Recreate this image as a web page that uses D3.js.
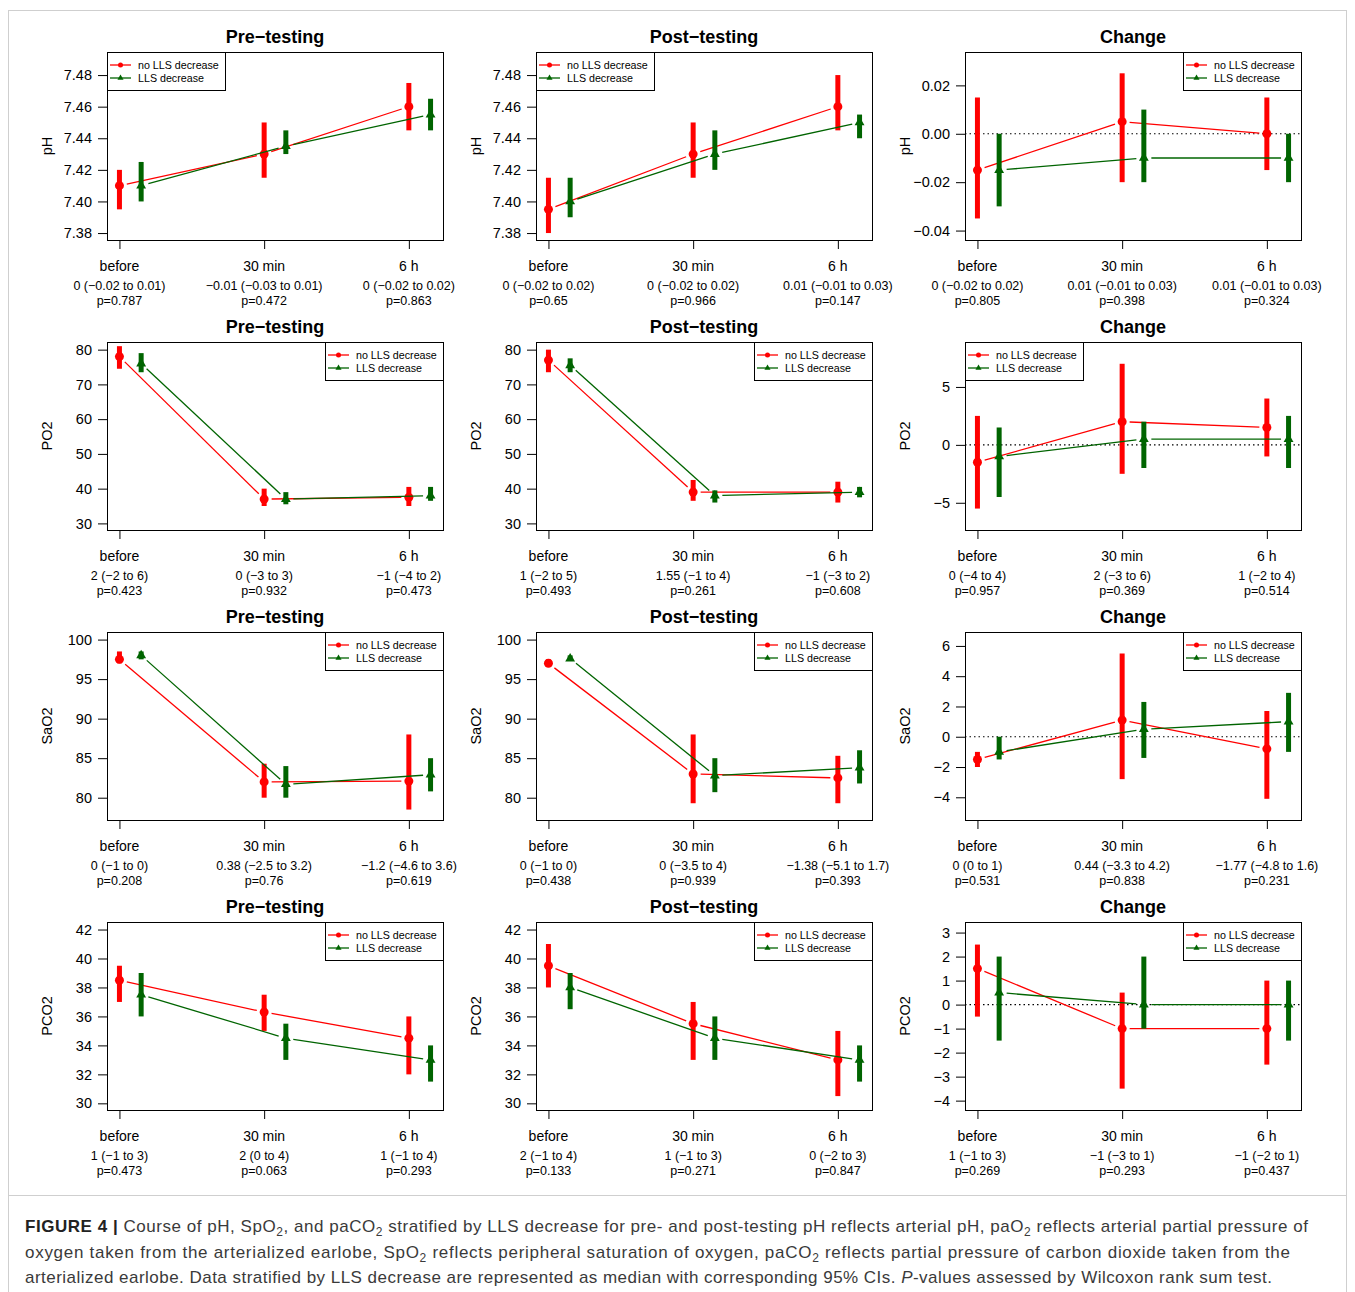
<!DOCTYPE html>
<html>
<head>
<meta charset="utf-8">
<script src="https://cdn.jsdelivr.net/npm/d3@7"></script>
<style>
  body { margin: 0; background: #fff; }
  text { font-family: "Liberation Sans", Arial, sans-serif; }
</style>
</head>
<body>
<svg id="fig"></svg>
<script>
// Time points, groups, titles
var times = ['before', '30 min', '6 h'];
var groups = ['no LLS decrease', 'LLS decrease'];
var colTitles = ['Pre\u2212testing', 'Post\u2212testing', 'Change'];
var rowLabels = ['pH', 'PO2', 'SaO2', 'PCO2'];

// [median, lower CI, upper CI] per time point, first no LLS decrease then LLS decrease
var phPre = [
  [[7.41, 7.395, 7.42], [7.43, 7.415, 7.45], [7.46, 7.445, 7.475]],
  [[7.41, 7.40, 7.425], [7.435, 7.43, 7.445], [7.455, 7.445, 7.465]]
];
var phPost = [
  [[7.395, 7.38, 7.415], [7.43, 7.415, 7.45], [7.46, 7.445, 7.48]],
  [[7.40, 7.39, 7.415], [7.43, 7.42, 7.445], [7.45, 7.44, 7.455]]
];
var phChange = [
  [[-0.015, -0.035, 0.015], [0.005, -0.02, 0.025], [0, -0.015, 0.015]],
  [[-0.015, -0.03, 0], [-0.01, -0.02, 0.01], [-0.01, -0.02, 0]]
];
var po2Pre = [
  [[78, 74.5, 81], [37, 35, 40], [37.5, 35, 40.5]],
  [[76, 73.5, 79], [37, 35.5, 39], [38, 36.5, 40.5]]
];
var po2Post = [
  [[77, 73.5, 80], [39, 36.5, 42.5], [39, 36, 42]],
  [[75.5, 73.5, 77.5], [38, 36, 39.5], [39, 37.5, 40.5]]
];
var po2Change = [
  [[-1.5, -5.5, 2.5], [2, -2.5, 7], [1.5, -1, 4]],
  [[-1, -4.5, 1.5], [0.5, -2, 2], [0.5, -2, 2.5]]
];
var sao2Pre = [
  [[97.5, 97, 98.5], [82, 80, 84.3], [82.1, 78.5, 88]],
  [[98, 97.5, 98.5], [81.7, 80, 84], [82.9, 80.8, 85]]
];
var sao2Post = [
  [[97, 96.7, 97.5], [83, 79.3, 88], [82.5, 79.3, 85.3]],
  [[97.6, 97.3, 98], [82.8, 80.7, 85], [83.8, 81.8, 86]]
];
var sao2Change = [
  [[-1.5, -2, -1], [1.1, -2.8, 5.5], [-0.8, -4.1, 1.7]],
  [[-1, -1.5, 0], [0.5, -1.4, 2.3], [1, -1, 2.9]]
];
var pco2Pre = [
  [[38.5, 37, 39.5], [36.3, 35, 37.5], [34.5, 32, 36]],
  [[37.5, 36, 39], [34.5, 33, 35.5], [33, 31.5, 34]]
];
var pco2Post = [
  [[39.5, 38, 41], [35.5, 33, 37], [33, 30.5, 35]],
  [[38, 36.5, 39], [34.5, 33, 36], [33, 31.5, 34]]
];
var pco2Change = [
  [[1.5, -0.5, 2.5], [-1, -3.5, 0.5], [-1, -2.5, 1]],
  [[0.5, -1.5, 2], [0, -1, 2], [0, -1.5, 1]]
];

// Effect (95% CI) and p-value under each time point
var phPreNotes = ['0 (\u22120.02 to 0.01)', '\u22120.01 (\u22120.03 to 0.01)', '0 (\u22120.02 to 0.02)'];
var phPostNotes = ['0 (\u22120.02 to 0.02)', '0 (\u22120.02 to 0.02)', '0.01 (\u22120.01 to 0.03)'];
var phChangeNotes = ['0 (\u22120.02 to 0.02)', '0.01 (\u22120.01 to 0.03)', '0.01 (\u22120.01 to 0.03)'];
var po2PreNotes = ['2 (\u22122 to 6)', '0 (\u22123 to 3)', '\u22121 (\u22124 to 2)'];
var po2PostNotes = ['1 (\u22122 to 5)', '1.55 (\u22121 to 4)', '\u22121 (\u22123 to 2)'];
var po2ChangeNotes = ['0 (\u22124 to 4)', '2 (\u22123 to 6)', '1 (\u22122 to 4)'];
var sao2PreNotes = ['0 (\u22121 to 0)', '0.38 (\u22122.5 to 3.2)', '\u22121.2 (\u22124.6 to 3.6)'];
var sao2PostNotes = ['0 (\u22121 to 0)', '0 (\u22123.5 to 4)', '\u22121.38 (\u22125.1 to 1.7)'];
var sao2ChangeNotes = ['0 (0 to 1)', '0.44 (\u22123.3 to 4.2)', '\u22121.77 (\u22124.8 to 1.6)'];
var pco2PreNotes = ['1 (\u22121 to 3)', '2 (0 to 4)', '1 (\u22121 to 4)'];
var pco2PostNotes = ['2 (\u22121 to 4)', '1 (\u22121 to 3)', '0 (\u22122 to 3)'];
var pco2ChangeNotes = ['1 (\u22121 to 3)', '\u22121 (\u22123 to 1)', '\u22121 (\u22122 to 1)'];

var phPreP = ['0.787', '0.472', '0.863'];
var phPostP = ['0.65', '0.966', '0.147'];
var phChangeP = ['0.805', '0.398', '0.324'];
var po2PreP = ['0.423', '0.932', '0.473'];
var po2PostP = ['0.493', '0.261', '0.608'];
var po2ChangeP = ['0.957', '0.369', '0.514'];
var sao2PreP = ['0.208', '0.76', '0.619'];
var sao2PostP = ['0.438', '0.939', '0.393'];
var sao2ChangeP = ['0.531', '0.838', '0.231'];
var pco2PreP = ['0.473', '0.063', '0.293'];
var pco2PostP = ['0.133', '0.271', '0.847'];
var pco2ChangeP = ['0.269', '0.293', '0.437'];

// y tick values and axis limits
var phTicks = [7.38, 7.40, 7.42, 7.44, 7.46, 7.48];
var phChangeTicks = [-0.04, -0.02, 0, 0.02];
var po2Ticks = [30, 40, 50, 60, 70, 80];
var po2ChangeTicks = [-5, 0, 5];
var sao2Ticks = [80, 85, 90, 95, 100];
var sao2ChangeTicks = [-4, -2, 0, 2, 4, 6];
var pco2Ticks = [30, 32, 34, 36, 38, 40, 42];
var pco2ChangeTicks = [-4, -3, -2, -1, 0, 1, 2, 3];

var phLim = [7.3756, 7.4946];
var phChangeLim = [-0.0439, 0.0338];
var po2Lim = [28.1, 82.2];
var po2ChangeLim = [-7.35, 8.88];
var sao2Lim = [77.18, 100.96];
var sao2ChangeLim = [-5.5, 6.92];
var pco2Lim = [29.54, 42.52];
var pco2ChangeLim = [-4.39, 3.44];

var xLim = [0.914, 3.236];
var groupOffset = [0, 0.15];
var colors = ['#ff0000', '#006400'];

var W = 1355, H = 1292;
var svg = d3.select('#fig').attr('width', W).attr('height', H);

// figure frame
svg.append('rect').attr('x', 8.5).attr('y', 10.5).attr('width', 1338).attr('height', 1290)
  .attr('fill', 'none').attr('stroke', '#cfcfcf');
svg.append('line').attr('x1', 8.5).attr('x2', 1346.5).attr('y1', 1195.5).attr('y2', 1195.5)
  .attr('stroke', '#cfcfcf');

var colX = [107, 536, 965];
var rowY = [52, 342, 632, 922];
var boxW = 336, boxH = 188;

var panels = [
  {row: 0, col: 0, data: phPre, notes: phPreNotes, p: phPreP, lim: phLim, ticks: phTicks, fmt: '.2f', legend: 'left'},
  {row: 0, col: 1, data: phPost, notes: phPostNotes, p: phPostP, lim: phLim, ticks: phTicks, fmt: '.2f', legend: 'left'},
  {row: 0, col: 2, data: phChange, notes: phChangeNotes, p: phChangeP, lim: phChangeLim, ticks: phChangeTicks, fmt: '.2f', legend: 'right'},
  {row: 1, col: 0, data: po2Pre, notes: po2PreNotes, p: po2PreP, lim: po2Lim, ticks: po2Ticks, fmt: 'd', legend: 'right'},
  {row: 1, col: 1, data: po2Post, notes: po2PostNotes, p: po2PostP, lim: po2Lim, ticks: po2Ticks, fmt: 'd', legend: 'right'},
  {row: 1, col: 2, data: po2Change, notes: po2ChangeNotes, p: po2ChangeP, lim: po2ChangeLim, ticks: po2ChangeTicks, fmt: 'd', legend: 'left'},
  {row: 2, col: 0, data: sao2Pre, notes: sao2PreNotes, p: sao2PreP, lim: sao2Lim, ticks: sao2Ticks, fmt: 'd', legend: 'right'},
  {row: 2, col: 1, data: sao2Post, notes: sao2PostNotes, p: sao2PostP, lim: sao2Lim, ticks: sao2Ticks, fmt: 'd', legend: 'right'},
  {row: 2, col: 2, data: sao2Change, notes: sao2ChangeNotes, p: sao2ChangeP, lim: sao2ChangeLim, ticks: sao2ChangeTicks, fmt: 'd', legend: 'right'},
  {row: 3, col: 0, data: pco2Pre, notes: pco2PreNotes, p: pco2PreP, lim: pco2Lim, ticks: pco2Ticks, fmt: 'd', legend: 'right'},
  {row: 3, col: 1, data: pco2Post, notes: pco2PostNotes, p: pco2PostP, lim: pco2Lim, ticks: pco2Ticks, fmt: 'd', legend: 'right'},
  {row: 3, col: 2, data: pco2Change, notes: pco2ChangeNotes, p: pco2ChangeP, lim: pco2ChangeLim, ticks: pco2ChangeTicks, fmt: 'd', legend: 'right'}
];

var triangle = d3.symbol().type(d3.symbolTriangle).size(42);
var triangleSmall = d3.symbol().type(d3.symbolTriangle).size(16);

panels.forEach(function(p) {
  var g = svg.append('g')
    .attr('transform', 'translate(' + colX[p.col] + ',' + rowY[p.row] + ')');
  var x = d3.scaleLinear().domain(xLim).range([0, boxW]);
  var y = d3.scaleLinear().domain(p.lim).range([boxH, 0]);

  // title
  g.append('text').attr('x', boxW / 2).attr('y', -9)
    .attr('text-anchor', 'middle').attr('font-weight', 'bold').attr('font-size', 18)
    .text(colTitles[p.col]);

  // y axis
  var yAxis = g.append('g')
    .call(d3.axisLeft(y).tickValues(p.ticks).tickFormat(d3.format(p.fmt)).tickSize(9).tickPadding(6));
  yAxis.select('.domain').remove();
  yAxis.attr('font-family', null);
  yAxis.selectAll('text').attr('font-size', 14.5).attr('fill', '#000');

  g.append('text')
    .attr('transform', 'translate(-55,' + (boxH / 2) + ') rotate(-90)')
    .attr('text-anchor', 'middle').attr('font-size', 14.5)
    .text(rowLabels[p.row]);

  // x axis
  var xAxis = g.append('g').attr('transform', 'translate(0,' + boxH + ')')
    .call(d3.axisBottom(x).tickValues([1, 2, 3]).tickFormat('').tickSize(9));
  xAxis.select('.domain').remove();

  times.forEach(function(t, i) {
    g.append('text').attr('x', x(i + 1)).attr('y', boxH + 31)
      .attr('text-anchor', 'middle').attr('font-size', 14).text(t);
    g.append('text').attr('x', x(i + 1)).attr('y', boxH + 50)
      .attr('text-anchor', 'middle').attr('font-size', 12.5).text(p.notes[i]);
    g.append('text').attr('x', x(i + 1)).attr('y', boxH + 65)
      .attr('text-anchor', 'middle').attr('font-size', 12.5).text('p=' + p.p[i]);
  });

  // reference line at zero for the change panels
  if (p.col == 2) {
    g.append('line').attr('x1', 0).attr('x2', boxW).attr('y1', y(0)).attr('y2', y(0))
      .attr('stroke', '#000').attr('stroke-width', 1.1).attr('stroke-dasharray', '1.5,3');
  }

  // groups: connecting lines with gaps at the points, CI bars, markers
  p.data.forEach(function(series, gi) {
    var pts = series.map(function(d, i) {
      return {x: x(i + 1 + groupOffset[gi]), y: y(d[0]), lo: y(d[1]), hi: y(d[2])};
    });
    var gap = 7.5;
    for (var i = 0; i < pts.length - 1; i++) {
      var a = pts[i], b = pts[i + 1];
      var dx = b.x - a.x, dy = b.y - a.y, len = Math.sqrt(dx * dx + dy * dy);
      if (len <= 2 * gap) continue;
      var ux = dx / len, uy = dy / len;
      g.append('line')
        .attr('x1', a.x + ux * gap).attr('y1', a.y + uy * gap)
        .attr('x2', b.x - ux * gap).attr('y2', b.y - uy * gap)
        .attr('stroke', colors[gi]).attr('stroke-width', 1.3);
    }
    g.selectAll('.ci' + gi).data(pts).enter().append('line')
      .attr('x1', function(d) { return d.x; }).attr('x2', function(d) { return d.x; })
      .attr('y1', function(d) { return d.lo; }).attr('y2', function(d) { return d.hi; })
      .attr('stroke', colors[gi]).attr('stroke-width', 5);
    if (gi == 0) {
      g.selectAll('.pt0').data(pts).enter().append('circle')
        .attr('cx', function(d) { return d.x; }).attr('cy', function(d) { return d.y; })
        .attr('r', 4.5).attr('fill', colors[gi]);
    } else {
      g.selectAll('.pt1').data(pts).enter().append('path')
        .attr('d', triangle)
        .attr('transform', function(d) { return 'translate(' + d.x + ',' + d.y + ')'; })
        .attr('fill', colors[gi]);
    }
  });

  // legend
  var lw = 118, lh = 38;
  var lx = p.legend == 'left' ? 0 : boxW - lw;
  var leg = g.append('g').attr('transform', 'translate(' + lx + ',0)');
  leg.append('rect').attr('x', 0.5).attr('y', 0.5).attr('width', lw).attr('height', lh)
    .attr('fill', '#fff').attr('stroke', '#000');
  groups.forEach(function(name, gi) {
    var ly = 13 + gi * 13;
    leg.append('line').attr('x1', 3).attr('x2', 24).attr('y1', ly).attr('y2', ly)
      .attr('stroke', colors[gi]).attr('stroke-width', 1.3);
    if (gi == 0) {
      leg.append('circle').attr('cx', 13.5).attr('cy', ly).attr('r', 2.5).attr('fill', colors[gi]);
    } else {
      leg.append('path').attr('d', triangleSmall)
        .attr('transform', 'translate(13.5,' + ly + ')').attr('fill', colors[gi]);
    }
    leg.append('text').attr('x', 31).attr('y', ly + 4).attr('font-size', 10.7).text(name);
  });

  // plot box
  g.append('rect').attr('x', 0.5).attr('y', 0.5).attr('width', boxW).attr('height', boxH)
    .attr('fill', 'none').attr('stroke', '#000');
});

// caption
var captionLines = [
  [['FIGURE 4 |', 'b'], [' Course of pH, SpO'], ['2', 's'], [', and paCO'], ['2', 's'],
   [' stratified by LLS decrease for pre- and post-testing pH reflects arterial pH, paO'], ['2', 's'],
   [' reflects arterial partial pressure of']],
  [['oxygen taken from the arterialized earlobe, SpO'], ['2', 's'],
   [' reflects peripheral saturation of oxygen, paCO'], ['2', 's'],
   [' reflects partial pressure of carbon dioxide taken from the']],
  [['arterialized earlobe. Data stratified by LLS decrease are represented as median with corresponding 95% CIs. '],
   ['P', 'i'], ['-values assessed by Wilcoxon rank sum test.']]
];
var captionWidths = [1283, 1265, 1247];
var cap = svg.append('g');
captionLines.forEach(function(parts, li) {
  var t = cap.append('text').attr('x', 25).attr('y', 1232 + li * 25.5)
    .attr('font-size', 17).attr('fill', '#3a3a3a')
    .attr('textLength', captionWidths[li]).attr('lengthAdjust', 'spacing');
  var shifted = false;
  parts.forEach(function(part) {
    var s = t.append('tspan').text(part[0]);
    if (part[1] == 's') {
      s.attr('font-size', 12).attr('dy', 4);
      shifted = true;
    } else if (shifted) {
      s.attr('dy', -4);
      shifted = false;
    }
    if (part[1] == 'b') s.attr('font-weight', 'bold').attr('fill', '#222');
    if (part[1] == 'i') s.attr('font-style', 'italic');
  });
});
</script>
</body>
</html>
